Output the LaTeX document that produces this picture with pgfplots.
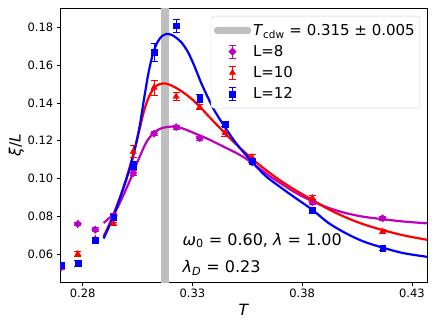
\documentclass[border=0pt]{standalone}
\usepackage{fontspec}
\setmainfont{DejaVu Sans}
\usepackage{pgfplots}
\usepackage{pgfplotstable}
\pgfplotsset{compat=1.18}

\definecolor{cmag}{rgb}{0.75,0,0.75}
\definecolor{cred}{rgb}{1,0,0}
\definecolor{cblue}{rgb}{0,0,1}
\definecolor{band}{rgb}{0.75,0.75,0.75}

% xi/L data, one table per system size
\pgfplotstableread{
T        v       e
0.27027  0.0531  0.0010
0.27778  0.0760  0.0010
0.28571  0.0730  0.0010
0.29412  0.0803  0.0010
0.30303  0.1029  0.0012
0.31250  0.1237  0.0010
0.32258  0.1272  0.0010
0.33333  0.1214  0.0010
0.35714  0.1085  0.0010
0.38462  0.0875  0.0012
0.41667  0.0790  0.0010
}\dataA
\pgfplotstableread{
T        v       e
0.27027  0.0538  0.0010
0.27778  0.0601  0.0015
0.28571  0.0681  0.0010
0.29412  0.0760  0.0010
0.30303  0.1143  0.0030
0.31250  0.1481  0.0040
0.32258  0.1434  0.0020
0.33333  0.1378  0.0015
0.34483  0.1240  0.0015
0.35714  0.1113  0.0015
0.38462  0.0897  0.0015
0.41667  0.0720  0.0012
}\dataB
\pgfplotstableread{
T        v       e
0.27027  0.0543  0.0015
0.27778  0.0552  0.0015
0.28571  0.0672  0.0015
0.29412  0.0796  0.0015
0.30303  0.1069  0.0020
0.31250  0.1667  0.0050
0.32258  0.1808  0.0035
0.33333  0.1423  0.0020
0.34483  0.1288  0.0015
0.35714  0.1090  0.0015
0.38462  0.0834  0.0012
0.41667  0.0632  0.0010
}\dataC

\pgfplotsset{
  ebar/.style={only marks,
    error bars/.cd, y dir=both, y explicit,
    error bar style={line width=0.9pt},
    error mark options={rotate=90, mark size=3.5pt, line width=0.9pt},
    /pgfplots/.cd,
    legend image code/.code={
      \draw[mark=none, line width=0.9pt] (18.5pt,-6.5pt) -- (18.5pt,6.5pt)
        (15pt,-6.5pt) -- (22pt,-6.5pt) (15pt,6.5pt) -- (22pt,6.5pt);
      \draw[mark repeat=1] plot coordinates {(18.5pt,0pt)};
    }},
}

\begin{document}
\begin{tikzpicture}
\begin{axis}[name=ax,
  scale only axis, width=367pt, height=274pt,
  xmin=0.2698, xmax=0.4370, ymin=0.0453, ymax=0.1902,
  xtick={0.28,0.33,0.38,0.43},
  ytick={0.06,0.08,0.10,0.12,0.14,0.16,0.18},
  scaled ticks=false, clip mode=individual, clip marker paths=true,
  tick align=outside, tick pos=left, major tick length=3.5pt,
  tick style={line width=0.8pt, black},
  axis line style={line width=0.8pt},
  ticklabel style={font=\fontsize{11.5}{13}\selectfont,
    /pgf/number format/fixed, /pgf/number format/fixed zerofill,
    /pgf/number format/precision=2, /pgf/number format/assume math mode=true},
  xlabel={\textit{T}}, ylabel={\textit{ξ}/\textit{L}}, ylabel shift=-3pt,
  label style={font=\fontsize{15.5}{18}\selectfont},
  legend cell align=left,
  legend style={at={(0.98,0.971)}, anchor=north east, draw=black!18,
    rounded corners=3pt, fill=white, inner xsep=3pt, inner ysep=6pt,
    row sep=4.5pt, font=\fontsize{15}{18}\selectfont},
]

\addplot[fill=band, draw=none,
  legend image code/.code={\fill[band] (0pt,-3.5pt) rectangle (37pt,3.5pt);}]
  coordinates {(0.31566,0.04) (0.31916,0.04) (0.31916,0.2) (0.31566,0.2)};
\addlegendentry{\textit{T}\textsubscript{cdw} = 0.315 ± 0.005}

% fitted curves
\addplot[cmag, line width=2.2pt, smooth, forget plot] coordinates {
(0.2895,0.0765) (0.2920,0.0790) (0.2940,0.0810) (0.2960,0.0850)
(0.2980,0.0898) (0.3000,0.0950) (0.3020,0.1003) (0.3040,0.1062)
(0.3067,0.1135) (0.3090,0.1192) (0.3120,0.1238) (0.3150,0.1262)
(0.3180,0.1272) (0.3210,0.1275) (0.3240,0.1270) (0.3270,0.1259)
(0.3319,0.1235) (0.3360,0.1215) (0.3395,0.1196) (0.3448,0.1165)
(0.3500,0.1135) (0.3547,0.1103) (0.3600,0.1058) (0.3653,0.1012)
(0.3698,0.0978) (0.3770,0.0925) (0.3846,0.0880) (0.3920,0.0845)
(0.4000,0.0817) (0.4080,0.0798) (0.4169,0.0785) (0.4260,0.0773)
(0.4370,0.0763)};
\addplot[cred, line width=2.2pt, smooth, forget plot] coordinates {
(0.2895,0.0693) (0.2920,0.0755) (0.2940,0.0810) (0.2960,0.0870)
(0.2980,0.0935) (0.3000,0.1005) (0.3020,0.1085) (0.3040,0.1170)
(0.3060,0.1265) (0.3080,0.1360) (0.3100,0.1428) (0.3120,0.1470)
(0.3140,0.1494) (0.3166,0.1503) (0.3190,0.1499) (0.3220,0.1483)
(0.3250,0.1462) (0.3280,0.1437) (0.3310,0.1407) (0.3340,0.1372)
(0.3380,0.1322) (0.3448,0.1240) (0.3500,0.1180) (0.3570,0.1106)
(0.3635,0.1045) (0.3700,0.0990) (0.3770,0.0938) (0.3846,0.0887)
(0.3920,0.0838) (0.4000,0.0794) (0.4080,0.0758) (0.4169,0.0727)
(0.4260,0.0700) (0.4370,0.0676)};
\addplot[cblue, line width=2.2pt, smooth, forget plot] coordinates {
(0.2895,0.0683) (0.2920,0.0745) (0.2940,0.0800) (0.2960,0.0863)
(0.2980,0.0930) (0.3000,0.1000) (0.3020,0.1075) (0.3040,0.1168)
(0.3060,0.1280) (0.3080,0.1425) (0.3100,0.1560) (0.3120,0.1660)
(0.3140,0.1720) (0.3160,0.1752) (0.3180,0.1764) (0.3200,0.1762)
(0.3220,0.1750) (0.3250,0.1720) (0.3280,0.1668) (0.3310,0.1592)
(0.3340,0.1505) (0.3370,0.1430) (0.3400,0.1360) (0.3448,0.1272)
(0.3500,0.1185) (0.3570,0.1090) (0.3635,0.1012) (0.3700,0.0955)
(0.3760,0.0905) (0.3846,0.0835) (0.3920,0.0765) (0.4000,0.0710)
(0.4080,0.0667) (0.4169,0.0634) (0.4260,0.0606) (0.4370,0.0586)};

% data with error bars
\addplot[cmag, ebar, mark=square*, mark size=2.6pt, mark options={rotate=45}]
  table[x=T, y=v, y error=e] {\dataA};
\addlegendentry{L=8}
\addplot[cred, ebar, mark=triangle*, mark size=3.6pt]
  table[x=T, y=v, y error=e] {\dataB};
\addlegendentry{L=10}
\addplot[cblue, ebar, mark=square*, mark size=2.9pt]
  table[x=T, y=v, y error=e] {\dataC};
\addlegendentry{L=12}

\node[anchor=base west, font=\fontsize{16}{19}\selectfont]
  at (rel axis cs:0.324,0.135) {\textit{ω}\textsubscript{0} = 0.60, \textit{λ} = 1.00};
\node[anchor=base west, font=\fontsize{16}{19}\selectfont]
  at (rel axis cs:0.324,0.035) {\textit{λ}\textsubscript{\textit{D}} = 0.23};
\end{axis}
\pgfresetboundingbox
\path ([shift={(-60.3pt,-45pt)}]ax.south west) rectangle ([shift={(8.7pt,8pt)}]ax.north east);
\end{tikzpicture}
\end{document}
